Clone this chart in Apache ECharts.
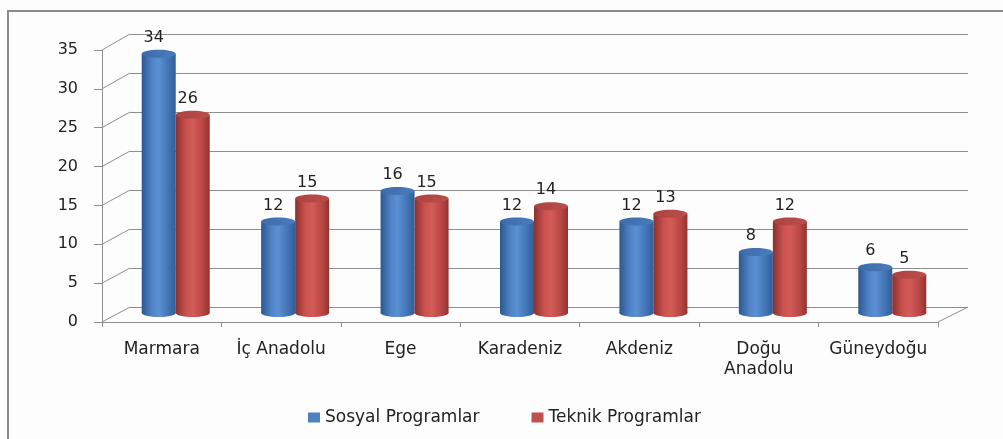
<!DOCTYPE html>
<html><head><meta charset="utf-8">
<script src="https://cdn.jsdelivr.net/npm/echarts@6/dist/echarts.min.js"></script>
<style>html,body{margin:0;padding:0;background:#fff}#c{width:1003px;height:439px}</style>
</head><body><div id="c"></div>
<script>
const categories = ['Marmara', 'İç Anadolu', 'Ege', 'Karadeniz', 'Akdeniz', 'Doğu\nAnadolu', 'Güneydoğu'];
const sosyal = [34, 12, 16, 12, 12, 8, 6];
const teknik = [26, 15, 15, 14, 13, 12, 5];
const seriesNames = ['Sosyal Programlar', 'Teknik Programlar'];
const yTicks = [0, 5, 10, 15, 20, 25, 30, 35];

const FONT = 'DejaVu Sans';
const GRID = '#8e8e8e';
const chart = echarts.init(document.getElementById('c'));
const G = echarts.graphic;
function grad(stops) {
  return new G.LinearGradient(0, 0, 1, 0, stops.map((c, i) => ({offset: [0, 0.3, 0.5, 0.8, 1][i], color: c})));
}
const STYLES = [
  {body: ['#2b5890', '#4f83c6', '#5b90d2', '#4173b3', '#2f5d98'], top: '#3c6ba8', top2: '#4a7cbc', legend: '#4f81bd'},
  {body: ['#8c302e', '#c9514e', '#d35c59', '#b84643', '#8f3330'], top: '#aa4340', top2: '#bd4e4b', legend: '#c0504d'}
];

const front = {left: 102, right: 65, top: 50, bottom: 117};
const back = {left: 130, right: 35, top: 34, bottom: 132};
const mid = {left: 116, right: 51, top: 46, bottom: 126};
const BAR_W = 34, ELL_H = 8;

function cylinder(sIdx) {
  return function (params, api) {
    const cat = api.value(0), val = api.value(1);
    const top = api.coord([cat, val]);
    const base = api.coord([cat, 0]);
    const cx = top[0] + (sIdx === 0 ? -BAR_W / 2 : BAR_W / 2);
    const st = STYLES[sIdx];
    const x = cx - BAR_W / 2;
    return {
      type: 'group',
      children: [
        {type: 'ellipse', shape: {cx: cx, cy: base[1], rx: BAR_W / 2, ry: ELL_H / 2}, style: {fill: grad(st.body)}},
        {type: 'rect', shape: {x: x, y: top[1], width: BAR_W, height: base[1] - top[1]}, style: {fill: grad(st.body)}},
        {type: 'ellipse', shape: {cx: cx, cy: top[1], rx: BAR_W / 2, ry: ELL_H / 2},
         style: {fill: new G.LinearGradient(0, 0, 1, 1, [{offset: 0, color: st.top}, {offset: 1, color: st.top2}])}},
        {type: 'text', style: {text: String(val), x: cx - 5, y: top[1] - 16, align: 'center', verticalAlign: 'middle',
          fill: '#222', font: '16px "' + FONT + '"'}}
      ]
    };
  };
}

chart.setOption({
  animation: false,
  backgroundColor: '#fdfdfd',
  grid: [front, back, mid],
  legend: {
    left: 303, top: 404, itemWidth: 12, itemHeight: 10, itemGap: 52,
    textStyle: {fontFamily: FONT, fontSize: 17, color: '#222'},
    data: [
      {name: seriesNames[0], icon: 'rect', itemStyle: {color: STYLES[0].legend}},
      {name: seriesNames[1], icon: 'rect', itemStyle: {color: STYLES[1].legend}}
    ]
  },
  xAxis: [
    {gridIndex: 0, type: 'category', data: categories,
     axisLine: {lineStyle: {color: GRID, width: 1}},
     axisTick: {show: true, interval: 0, length: 5, lineStyle: {color: GRID}},
     axisLabel: {interval: 0, hideOverlap: false, margin: 18, color: '#222', fontFamily: FONT, fontSize: 17, lineHeight: 20}},
    {gridIndex: 1, type: 'category', data: categories, show: false},
    {gridIndex: 2, type: 'category', data: categories, show: false}
  ],
  yAxis: [
    {gridIndex: 0, type: 'value', min: 0, max: 35, interval: 5,
     axisLine: {show: true, lineStyle: {color: GRID}},
     axisTick: {show: true, length: 8, lineStyle: {color: GRID}},
     splitLine: {show: false},
     axisLabel: {margin: 24, color: '#222', fontFamily: FONT, fontSize: 16}},
    {gridIndex: 1, type: 'value', min: 0, max: 35, interval: 5,
     axisLine: {show: false}, axisTick: {show: false}, axisLabel: {show: false},
     splitLine: {show: true, lineStyle: {color: GRID, width: 1}}},
    {gridIndex: 2, type: 'value', min: 0, max: 35, show: false}
  ],
  series: [sosyal, teknik].map((arr, i) => ({
    name: seriesNames[i], type: 'custom', xAxisIndex: 2, yAxisIndex: 2,
    data: arr.map((v, k) => [k, v]), renderItem: cylinder(i),
    itemStyle: {color: STYLES[i].legend}, z: 3
  }))
});

// side wall and floor edges of the 3D box, derived from the axes
const W = 1003;
const elements = [];
yTicks.forEach(v => {
  const yf = chart.convertToPixel({yAxisIndex: 0}, v);
  const yb = chart.convertToPixel({yAxisIndex: 1}, v);
  elements.push({type: 'line', shape: {x1: front.left, y1: yf, x2: back.left, y2: yb},
    style: {stroke: GRID, lineWidth: 1}, silent: true, z: 1});
});
const yf0 = chart.convertToPixel({yAxisIndex: 0}, 0);
const yb0 = chart.convertToPixel({yAxisIndex: 1}, 0);
elements.push({type: 'line', shape: {x1: W - front.right, y1: yf0, x2: W - back.right, y2: yb0},
  style: {stroke: GRID, lineWidth: 1}, silent: true, z: 1});
elements.push({type: 'rect', shape: {x: 8, y: 11, width: 1010, height: 450},
  style: {fill: 'none', stroke: '#8a8a8a', lineWidth: 2}, silent: true, z: 0});
chart.setOption({graphic: elements});
</script></body></html>
